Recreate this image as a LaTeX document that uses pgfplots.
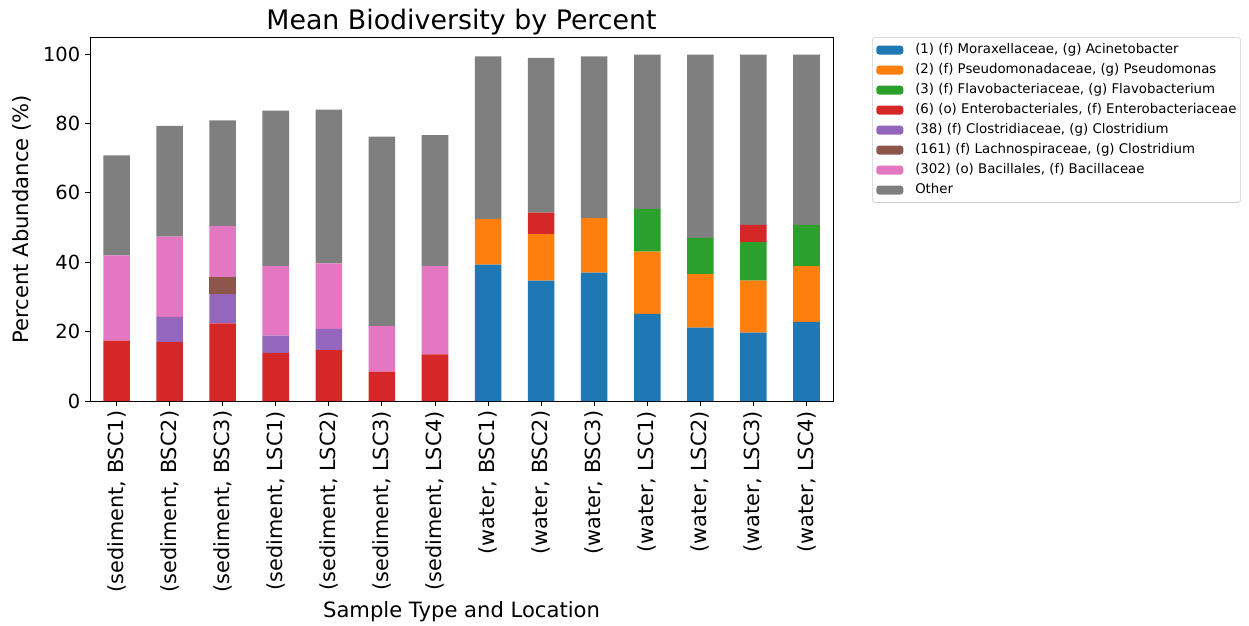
\documentclass[border=0pt]{standalone}
\usepackage{pgfplots}
\pgfplotsset{compat=1.18}
\usepackage{pgfplotstable}
\usepackage{fontspec}
\setmainfont{DejaVu Sans}
\definecolor{cblue}{HTML}{1F77B4}
\definecolor{corange}{HTML}{FF7F0E}
\definecolor{cgreen}{HTML}{2CA02C}
\definecolor{cred}{HTML}{D62728}
\definecolor{cpurple}{HTML}{9467BD}
\definecolor{cbrown}{HTML}{8C564B}
\definecolor{cpink}{HTML}{E377C2}
\definecolor{cgray}{HTML}{7F7F7F}

\pgfplotstableread{
x  blue  orange green red  purple brown pink other
0  0     0      0     17.4 0      0     24.6 28.8
1  0     0      0     17.0 7.3    0     23.1 31.9
2  0     0      0     22.4 8.4    5.0   14.6 30.5
3  0     0      0     13.9 5.0    0     20.0 44.8
4  0     0      0     14.7 6.1    0     18.9 44.3
5  0     0      0     8.5  0      0     13.1 54.6
6  0     0      0     13.5 0      0     25.4 37.7
7  39.3  13.1   0     0    0      0     0    46.9
8  34.7  13.4   0     6.2  0      0     0    44.6
9  37.0  15.7   0     0    0      0     0    46.6
10 25.1  18.0   12.3  0    0      0     0    44.4
11 21.2  15.4   10.4  0    0      0     0    52.8
12 19.7  15.0   11.1  5.0  0      0     0    49.0
13 22.8  16.1   11.9  0    0      0     0    49.0
}\data

\begin{document}
\begin{tikzpicture}
\begin{axis}[
  width=535pt, height=261.9pt, scale only axis,
  ybar stacked, bar width=0.5,
  xmin=-0.5, xmax=13.5, ymin=0, ymax=104.8,
  xtick={0,...,13},
  xticklabels={{(sediment, BSC1)},{(sediment, BSC2)},{(sediment, BSC3)},{(sediment, LSC1)},{(sediment, LSC2)},{(sediment, LSC3)},{(sediment, LSC4)},{(water, BSC1)},{(water, BSC2)},{(water, BSC3)},{(water, LSC1)},{(water, LSC2)},{(water, LSC3)},{(water, LSC4)}},
  ytick={0,20,40,60,80,100},
  tick align=outside, xtick pos=left, ytick pos=left,
  major tick length=3.5pt,
  axis line style={black, line width=0.6pt},
  tick style={black, line width=0.6pt},
  /pgf/number format/assume math mode=true,
  yticklabel style={font=\fontsize{14}{16}\selectfont},
  xticklabel style={font=\fontsize{15}{17}\selectfont, rotate=90, anchor=east},
  title={Mean Biodiversity by Percent},
  title style={font=\fontsize{19.3}{22}\selectfont, at={(axis description cs:0.5,1)}, anchor=base, inner sep=0pt},
  xlabel={Sample Type and Location},
  ylabel={Percent Abundance (\%)},
  label style={font=\fontsize{15.2}{17}\selectfont, inner sep=0pt},
  xlabel style={at={(axis description cs:0.5,-0.5953)}, anchor=base},
  ylabel style={at={(axis description cs:-0.0834,0.5)}, anchor=base},
  every axis plot/.append style={draw=none, legend image code/.code={\fill[##1] (0pt,-3.2pt) rectangle (19.4pt,3.2pt);}},
  legend cell align=left,
  legend style={font=\fontsize{9.6}{11}\selectfont, draw=black!20, rounded corners=2pt,
    at={(axis description cs:1.0525,1)}, anchor=north west,
    inner xsep=2.9pt, inner ysep=4.2pt,
    nodes={inner xsep=0pt, inner ysep=0pt, text height=7.3pt, text depth=2.2pt},
    row sep=4.9pt, column sep=8.6pt},
]
\addplot[fill=cblue] table[x=x,y=blue]{\data};
\addlegendentry{(1) (f) Moraxellaceae, (g) Acinetobacter}
\addplot[fill=corange] table[x=x,y=orange]{\data};
\addlegendentry{(2) (f) Pseudomonadaceae, (g) Pseudomonas}
\addplot[fill=cgreen] table[x=x,y=green]{\data};
\addlegendentry{(3) (f) Flavobacteriaceae, (g) Flavobacterium}
\addplot[fill=cred] table[x=x,y=red]{\data};
\addlegendentry{(6) (o) Enterobacteriales, (f) Enterobacteriaceae}
\addplot[fill=cpurple] table[x=x,y=purple]{\data};
\addlegendentry{(38) (f) Clostridiaceae, (g) Clostridium}
\addplot[fill=cbrown] table[x=x,y=brown]{\data};
\addlegendentry{(161) (f) Lachnospiraceae, (g) Clostridium}
\addplot[fill=cpink] table[x=x,y=pink]{\data};
\addlegendentry{(302) (o) Bacillales, (f) Bacillaceae}
\addplot[fill=cgray] table[x=x,y=other]{\data};
\addlegendentry{Other}
\end{axis}
\path ([xshift=-64.8pt,yshift=-161.3pt]current axis.south west) rectangle ([xshift=299.5pt,yshift=26.9pt]current axis.north east);
\end{tikzpicture}
\end{document}
